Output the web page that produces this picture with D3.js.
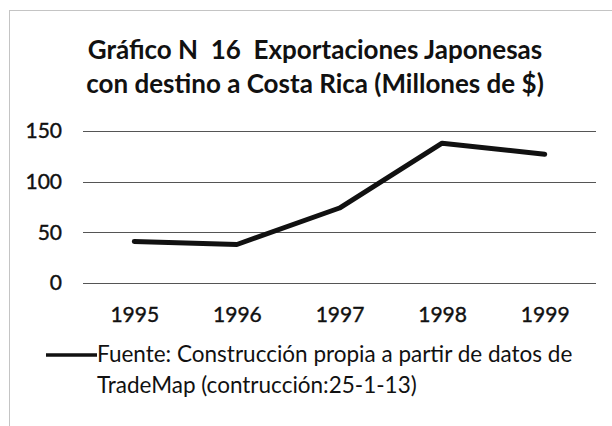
<!DOCTYPE html>
<html>
<head>
<meta charset="utf-8">
<script src="https://cdn.jsdelivr.net/npm/d3@7"></script>
<style>
  html, body { margin: 0; padding: 0; background: #fff; }
  svg { display: block; }
</style>
</head>
<body>
<svg id="chart" width="612" height="426"></svg>
<script>
(function () {
  'use strict';

  // ---- Data ----
  const years = ['1995', '1996', '1997', '1998', '1999'];
  const exports = [41, 38, 74, 138, 127];
  const yTicks = [0, 50, 100, 150];
  const titleLines = [
    'Gráfico N  16  Exportaciones Japonesas',
    'con destino a Costa Rica (Millones de $)'
  ];
  const legendLines = [
    'Fuente: Construcción propia a partir de datos de',
    'TradeMap (contrucción:25-1-13)'
  ];

  const FONT = "Lato, 'Open Sans', sans-serif";
  const svg = d3.select('#chart');

  // Chart frame (dotted scan border)
  svg.append('rect')
    .attr('x', 9.5).attr('y', 10.5)
    .attr('width', 620).attr('height', 440)
    .attr('fill', 'none')
    .attr('stroke', '#888')
    .attr('stroke-width', 1)
    .attr('stroke-dasharray', '1,1');

  // Title
  svg.append('text')
    .attr('text-anchor', 'middle')
    .attr('font-family', FONT)
    .attr('font-weight', 'bold')
    .attr('font-size', 26)
    .attr('fill', '#111')
    .selectAll('tspan')
    .data(titleLines)
    .enter()
    .append('tspan')
    .attr('x', 315)
    .attr('y', function (d, i) { return 59 + i * 34; })
    .style('white-space', 'pre')
    .text(function (d) { return d; });

  // Scales
  const x = d3.scalePoint().domain(years).range([83, 596]).padding(0.5);
  const y = d3.scaleLinear().domain([0, 150]).range([283, 131]);

  // Gridlines
  svg.append('g')
    .selectAll('line')
    .data(yTicks)
    .enter()
    .append('line')
    .attr('x1', 83).attr('x2', 596)
    .attr('y1', function (d) { return Math.round(y(d)) + 0.5; })
    .attr('y2', function (d) { return Math.round(y(d)) + 0.5; })
    .attr('stroke', '#555')
    .attr('stroke-width', 1);

  // Y axis labels
  const yAxis = svg.append('g')
    .attr('transform', 'translate(83,0)')
    .call(d3.axisLeft(y).tickValues(yTicks).tickSize(0).tickPadding(21));
  yAxis.select('.domain').remove();
  yAxis.selectAll('text')
    .attr('font-family', FONT)
    .attr('font-size', 21)
    .attr('fill', '#111')
    .attr('stroke', '#111')
    .attr('stroke-width', 0.4);

  // X axis labels
  const xAxis = svg.append('g')
    .attr('transform', 'translate(0,283)')
    .call(d3.axisBottom(x).tickSize(0).tickPadding(24));
  xAxis.select('.domain').remove();
  xAxis.selectAll('text')
    .attr('font-family', FONT)
    .attr('font-size', 21)
    .attr('fill', '#111')
    .attr('stroke', '#111')
    .attr('stroke-width', 0.4);

  // Series line
  const line = d3.line()
    .x(function (d, i) { return x(years[i]); })
    .y(function (d) { return y(d); });

  svg.append('path')
    .datum(exports)
    .attr('d', line)
    .attr('fill', 'none')
    .attr('stroke', '#111')
    .attr('stroke-width', 5)
    .attr('stroke-linejoin', 'round')
    .attr('stroke-linecap', 'round');

  // Legend
  svg.append('line')
    .attr('x1', 46).attr('x2', 97)
    .attr('y1', 355).attr('y2', 355)
    .attr('stroke', '#111')
    .attr('stroke-width', 3.5);

  svg.append('text')
    .attr('font-family', FONT)
    .attr('font-size', 22.5)
    .attr('fill', '#111')
    .selectAll('tspan')
    .data(legendLines)
    .enter()
    .append('tspan')
    .attr('x', 97)
    .attr('y', function (d, i) { return 362 + i * 31; })
    .text(function (d) { return d; });
})();
</script>
</body>
</html>
